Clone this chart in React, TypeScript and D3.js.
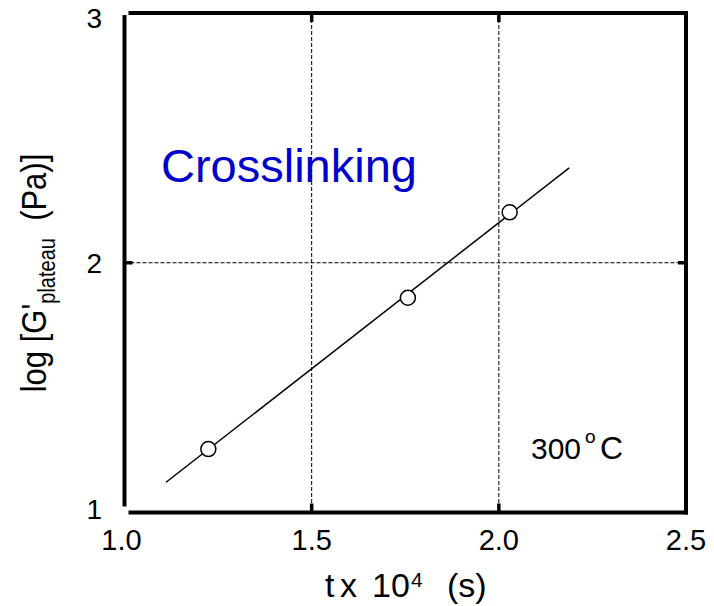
import React from "react";
import * as d3 from "d3";

const xTicks = [1.0, 1.5, 2.0, 2.5];
const yTicks = [1, 2, 3];
const gridX = [1.5, 2.0];
const gridY = [2];
const pointsX = [1.224, 1.757, 2.029];
const pointsY = [1.254, 1.86, 2.202];
const fitX = [1.111, 2.188];
const fitY = [1.121, 2.38];

const W = 714;
const H = 606;
const FONT = "Arial, 'Liberation Sans', Helvetica, sans-serif";

export default function App() {
  const x = d3.scaleLinear().domain([1, 2.5]).range([124.5, 686]);
  const y = d3.scaleLinear().domain([1, 3]).range([512.5, 13]);
  // tick label baseline positions (labels sit slightly compressed relative to the frame)
  const yLab = d3.scaleLinear().domain([1, 3]).range([518.5, 28]);
  const [x0, x1] = x.range();
  const [y0, y1] = y.range();
  const line = d3
    .line<number>()
    .x((d) => x(fitX[d]))
    .y((d) => y(fitY[d]));

  return (
    <svg
      width={W}
      height={H}
      style={{ position: "absolute", left: 0, top: 0, background: "#fff" }}
      fontFamily={FONT}
    >
      <rect x={0} y={0} width={W} height={H} fill="#fff" />
      {/* grid */}
      {gridX.map((v) => (
        <line key={"gx" + v} x1={x(v)} x2={x(v)} y1={y1} y2={y0} stroke="#000" strokeWidth={1} strokeDasharray="4,2" />
      ))}
      {gridY.map((v) => (
        <line key={"gy" + v} x1={x0} x2={x1} y1={y(v)} y2={y(v)} stroke="#000" strokeWidth={1} strokeDasharray="4,2" />
      ))}
      {/* inner ticks */}
      {gridX.map((v) => (
        <g key={"tx" + v}>
          <line x1={x(v)} x2={x(v)} y1={y0} y2={y0 - 9} stroke="#000" strokeWidth={3.5} />
          <line x1={x(v)} x2={x(v)} y1={y1} y2={y1 + 9} stroke="#000" strokeWidth={3.5} />
        </g>
      ))}
      {gridY.map((v) => (
        <g key={"ty" + v}>
          <line x1={x0} x2={x0 + 8} y1={y(v)} y2={y(v)} stroke="#000" strokeWidth={3.5} />
          <line x1={x1} x2={x1 - 8} y1={y(v)} y2={y(v)} stroke="#000" strokeWidth={3.5} />
        </g>
      ))}
      {/* frame */}
      <line x1={x0} x2={x0} y1={y1 + 2} y2={y0 - 6} stroke="#000" strokeWidth={4} />
      <line x1={x0 + 4} x2={x1 + 2} y1={y1} y2={y1} stroke="#000" strokeWidth={4} />
      <line x1={x0 + 4} x2={x1 + 2} y1={y0} y2={y0} stroke="#000" strokeWidth={4} />
      <line x1={x1} x2={x1} y1={y1 - 2} y2={y0 + 2} stroke="#000" strokeWidth={4} />
      {/* fit line */}
      <path d={line([0, 1]) || ""} fill="none" stroke="#000" strokeWidth={1.5} />
      {/* points */}
      {pointsX.map((v, i) => (
        <circle key={"p" + i} cx={x(v)} cy={y(pointsY[i])} r={7.5} fill="#fff" stroke="#000" strokeWidth={1.5} />
      ))}
      {/* x tick labels */}
      {xTicks.map((v, i) => (
        <text key={"xl" + v} x={x(v) - (i === 0 ? 3 : 0)} y={550} textAnchor="middle" fontSize={29} fill="#000">
          {v.toFixed(1)}
        </text>
      ))}
      {/* y tick labels */}
      {yTicks.map((v) => (
        <text key={"yl" + v} x={102} y={yLab(v)} textAnchor="end" fontSize={28} fill="#000">
          {v}
        </text>
      ))}
      {/* x title */}
      <text y={597} fontSize={34} fill="#000">
        <tspan x={325}>t</tspan>
        <tspan x={340}>x</tspan>
        <tspan x={372}>10</tspan>
        <tspan x={411} y={586.5} fontSize={21}>4</tspan>
        <tspan x={447} y={597}>(s)</tspan>
      </text>
      {/* y title */}
      <text transform="translate(46,273) rotate(-90) scale(1,1.15)" textAnchor="middle" fontSize={31} fill="#000">
        log [G'
        <tspan dy={8} fontSize={20}>plateau</tspan>
        <tspan dy={-8}>{"\u00a0\u00a0(Pa)]"}</tspan>
      </text>
      {/* annotations */}
      <text x={161} y={182} fontSize={47} fill="#0000CC">
        Crosslinking
      </text>
      <text y={459} fontSize={30} fill="#000">
        <tspan x={531}>300</tspan>
        <tspan x={585} y={443} fontSize={19}>o</tspan>
        <tspan x={600} y={459} fontSize={32}>C</tspan>
      </text>
    </svg>
  );
}
